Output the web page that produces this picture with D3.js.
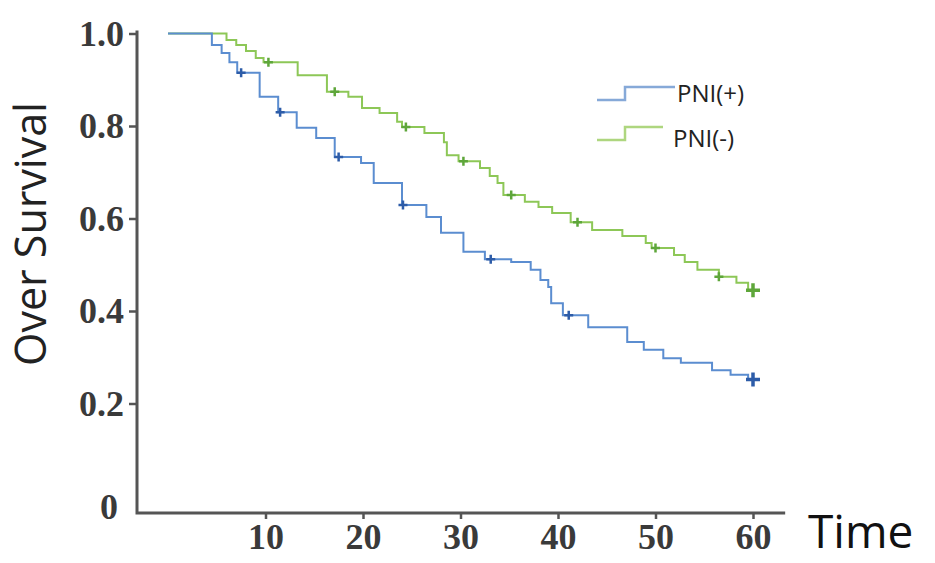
<!DOCTYPE html>
<html>
<head>
<meta charset="utf-8">
<script src="https://cdn.jsdelivr.net/npm/d3@7"></script>
<style>
  body { margin: 0; background: #fff; }
</style>
</head>
<body>
<script>
// Kaplan-Meier steps: [time, survival after the drop]
var pniPosSteps = [
  [0, 1.0], [4.5, 0.975], [5.5, 0.958], [6.3, 0.938], [7.1, 0.915],
  [9.4, 0.863], [11.3, 0.830], [13.2, 0.796], [15.2, 0.774], [17.1, 0.733],
  [19.8, 0.720], [21.1, 0.677], [24.0, 0.629], [26.5, 0.603], [28.0, 0.569],
  [30.3, 0.528], [32.5, 0.512], [35.2, 0.506], [37.2, 0.489], [38.2, 0.467],
  [39.0, 0.452], [39.3, 0.417], [40.5, 0.391], [43.1, 0.365], [47.1, 0.333],
  [48.8, 0.316], [50.8, 0.298], [52.6, 0.288], [55.8, 0.272], [57.7, 0.262],
  [59.5, 0.252]
];
var pniNegSteps = [
  [0, 1.0], [6.0, 0.986], [7.0, 0.975], [8.0, 0.962], [9.0, 0.947],
  [9.8, 0.938], [13.3, 0.910], [16.3, 0.874], [18.5, 0.863], [19.9, 0.839],
  [21.7, 0.828], [23.5, 0.809], [24.0, 0.798], [26.3, 0.785], [28.3, 0.765],
  [28.6, 0.737], [29.8, 0.724], [32.0, 0.709], [33.0, 0.692], [33.8, 0.677],
  [34.4, 0.651], [36.6, 0.636], [38.0, 0.625], [39.4, 0.612], [41.3, 0.592],
  [43.5, 0.575], [46.6, 0.562], [49.0, 0.547], [49.6, 0.536], [51.9, 0.521],
  [53.0, 0.506], [54.3, 0.489], [56.5, 0.474], [58.3, 0.461], [59.5, 0.445]
];
var pniPosCensored = [7.5, 11.5, 17.5, 24.1, 33.1, 41.1];
var pniNegCensored = [10.3, 17.1, 24.4, 30.3, 35.2, 42.0, 50.0, 56.5];
var followUpEnd = 60;

var xTicks = [10, 20, 30, 40, 50, 60];
var yTicks = [0.2, 0.4, 0.6, 0.8, 1.0];
var seriesNames = ["PNI(+)", "PNI(-)"];

var width = 935, height = 563;
var axisColor = "#555";
var blue = "#5b8dd0", blueDark = "#2d5ca8";
var green = "#8dc757", greenDark = "#5ea63a";

var svg = d3.select("body").append("svg")
    .attr("width", width)
    .attr("height", height);

var xScale = d3.scaleLinear().domain([0, 60]).range([168, 753]);
var yScale = d3.scaleLinear().domain([0, 1]).range([496, 33.5]);
var baseY = 513;   // x axis sits a little below survival 0
var leftX = 137;

// axes
var yAxis = d3.axisLeft(yScale)
    .tickValues(yTicks)
    .tickFormat(d3.format(".1f"))
    .tickSize(8)
    .tickPadding(5);

var gy = svg.append("g")
    .attr("transform", "translate(" + leftX + ",0)")
    .call(yAxis);
gy.select(".domain").remove();

var xAxis = d3.axisBottom(xScale)
    .tickValues(xTicks)
    .tickFormat(d3.format("d"))
    .tickSize(6)
    .tickPadding(4);

var gx = svg.append("g")
    .attr("transform", "translate(0," + baseY + ")")
    .call(xAxis);
gx.select(".domain").remove();

svg.selectAll(".tick line")
    .attr("stroke", axisColor)
    .attr("stroke-width", 2.5);
svg.selectAll(".tick text")
    .attr("fill", "#3a3a3a")
    .style("font-family", "'Liberation Serif', serif")
    .style("font-weight", "bold")
    .style("font-size", "36px");

// axis lines
svg.append("path")
    .attr("d", "M" + leftX + "," + (yScale(1) - 3) + "V" + baseY + "H" + xScale(63.3))
    .attr("fill", "none")
    .attr("stroke", axisColor)
    .attr("stroke-width", 3);

// zero label at the corner
svg.append("text")
    .attr("x", 118)
    .attr("y", baseY - 6)
    .attr("dy", "0.32em")
    .attr("text-anchor", "end")
    .attr("fill", "#3a3a3a")
    .style("font-family", "'Liberation Serif', serif")
    .style("font-weight", "bold")
    .style("font-size", "36px")
    .text("0");

// axis titles
svg.append("text")
    .attr("transform", "translate(46,234) rotate(-90)")
    .attr("text-anchor", "middle")
    .attr("fill", "#222")
    .style("font-family", "'Open Sans', sans-serif")
    .style("font-size", "43px")
    .text("Over Survival");

svg.append("text")
    .attr("x", 808)
    .attr("y", 548)
    .attr("fill", "#111")
    .style("font-family", "'Open Sans', sans-serif")
    .style("font-size", "46px")
    .text("Time");

// curves
var line = d3.line()
    .x(function(d) { return xScale(d[0]); })
    .y(function(d) { return yScale(d[1]); })
    .curve(d3.curveStepAfter);

function survivalAt(steps, t) {
    var v = steps[0][1];
    steps.forEach(function(s) { if (s[0] <= t) v = s[1]; });
    return v;
}

function drawCurve(steps, censored, color, markColor) {
    var pts = steps.concat([[followUpEnd, steps[steps.length - 1][1]]]);
    svg.append("path")
        .datum(pts)
        .attr("d", line)
        .attr("fill", "none")
        .attr("stroke", color)
        .attr("stroke-width", 2);

    var marks = censored.map(function(t) { return {t: t, v: survivalAt(steps, t), r: 4.5}; });
    marks.push({t: followUpEnd, v: steps[steps.length - 1][1], r: 7});

    svg.selectAll(null)
        .data(marks)
        .enter()
        .append("path")
        .attr("d", function(d) {
            var x = xScale(d.t), y = yScale(d.v);
            return "M" + (x - d.r) + "," + y + "H" + (x + d.r) +
                   "M" + x + "," + (y - d.r) + "V" + (y + d.r);
        })
        .attr("stroke", markColor)
        .attr("stroke-width", function(d) { return d.r > 5 ? 3.5 : 2.5; });
}

drawCurve(pniNegSteps, pniNegCensored, green, greenDark);
drawCurve(pniPosSteps, pniPosCensored, blue, blueDark);

// legend
var legend = [
  {name: seriesNames[0], color: "#86a9d8", y: 100, end: 675, tx: 677},
  {name: seriesNames[1], color: "#aed67f", y: 140, end: 663, tx: 673}
];
legend.forEach(function(d) {
    svg.append("path")
        .attr("d", "M597," + d.y + "H625V" + (d.y - 13) + "H" + d.end)
        .attr("fill", "none")
        .attr("stroke", d.color)
        .attr("stroke-width", 2.5);
    svg.append("text")
        .attr("x", d.tx)
        .attr("y", d.y + 2 + (d.y > 120 ? 5 : 0))
        .attr("fill", "#222")
        .style("font-family", "'Open Sans', sans-serif")
        .style("font-size", "24px")
        .text(d.name);
});
</script>
</body>
</html>
